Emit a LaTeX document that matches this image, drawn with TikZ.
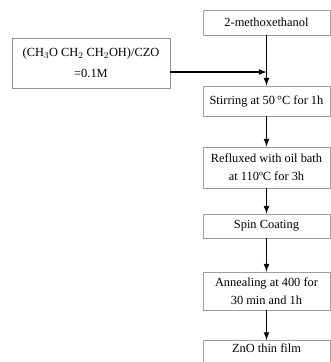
\documentclass[tikz,border=0pt]{standalone}
\usepackage{fontspec}
\setmainfont{Liberation Serif}
\usepackage{tikz}
\usetikzlibrary{arrows}
\usetikzlibrary{shapes,positioning,calc,shadows}

\tikzset{
  stepbox/.style={draw=gray!75, line width=0.9pt, fill=white, minimum width=127pt,
    inner xsep=1pt, align=center, font=\fontsize{12.4}{18}\selectfont,
    drop shadow={shadow xshift=0.7pt, shadow yshift=-0.7pt, opacity=0.35}},
  srcbox/.style={stepbox, draw=gray!85, minimum width=158pt, minimum height=50pt,
    font=\fontsize{12.4}{21}\selectfont},
  flow/.style={->, line width=1.6pt}
}

\begin{document}
\begin{tikzpicture}[>=latex, x=1pt, y=-1pt]
	\useasboundingbox (0,0) rectangle (331,362);
	% process chain
	\node[stepbox, minimum height=25pt] (solvent) at (266.5,22.5) {2-methoxethanol};
	\node[srcbox] (precursor) at (91,63) {(CH$_3$O CH$_2$ CH$_2$OH)/CZO\\=0.1M};
	\node[stepbox, minimum height=30pt] (stir) at (266.5,101) {Stirring at 50\,°C for 1h};
	\node[stepbox, minimum height=41pt] (reflux) at (266.5,167.5) {Refluxed with oil bath\\at 110ºC for 3h};
	\node[stepbox, minimum height=24pt] (spin) at (266.5,226) {Spin Coating};
	\node[stepbox, minimum height=38pt] (anneal) at (266.5,291) {Annealing at 400 for\\30 min and 1h};
	\node[stepbox, anchor=north, inner ysep=3pt, text depth=30pt] (film) at (266.5,340) {ZnO thin film};
	% arrows
	\coordinate (feed) at ([yshift=-9pt]precursor.east);
	\coordinate (join) at (feed -| solvent.south);
	\draw[flow] (feed) -- (join);
	\draw[flow] (solvent) -- (stir);
	\draw[flow] (stir) -- (reflux);
	\draw[flow] (reflux) -- (spin);
	\draw[flow] (spin) -- (anneal);
	\draw[flow] (anneal) -- (film);
\end{tikzpicture}
\end{document}
